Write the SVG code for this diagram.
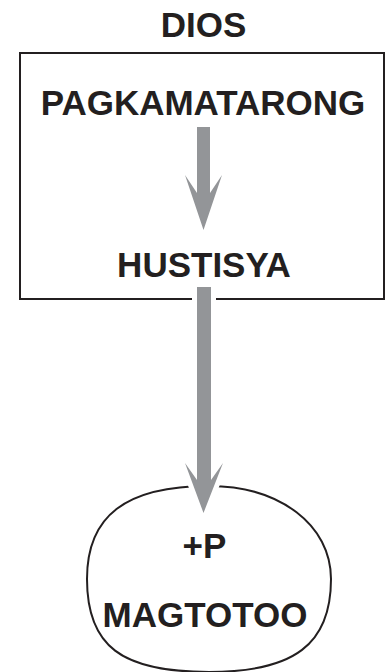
<svg xmlns="http://www.w3.org/2000/svg" width="386" height="672" viewBox="0 0 386 672">
  <style>
    .t { font-family: "Liberation Sans", Arial, sans-serif; font-weight: bold; font-size: 35px; fill: #231f20; text-anchor: middle; }
    .edge { fill: none; stroke: #231f20; stroke-width: 2; }
    .arrow { fill: #939598; stroke: #ffffff; stroke-width: 10; stroke-linejoin: miter; paint-order: stroke; }
  </style>
  <rect width="386" height="672" fill="#ffffff"/>
  <g id="dios-label">
    <text class="t" x="203.5" y="37">DIOS</text>
  </g>
  <g id="dios-box">
    <rect class="edge" x="20" y="53" width="364" height="246"/>
  </g>
  <g id="pagkamatarong">
    <text class="t" x="203" y="115">PAGKAMATARONG</text>
  </g>
  <g id="hustisya">
    <text class="t" x="204" y="277">HUSTISYA</text>
  </g>
  <g id="magtotoo">
    <path class="edge" d="M87,579 C87,515.8 126,486 209,486 C279.8,486 331,525.1 331,579 C331,644.1 294.4,672 209,672 C121.2,672 87,646 87,579 Z"/>
    <text class="t" x="204.5" y="558">+P</text>
    <text class="t" x="205" y="627">MAGTOTOO</text>
  </g>
  <g id="connectors">
    <path class="arrow" style="stroke:none" d="M197,127 L197,193 L185,175 L203.5,230 L222,175 L210,193 L210,127 Z"/>
    <path class="arrow" d="M197,287 L197,480 L185,463 L203.5,513 L223,463 L211,480 L211,287 Z"/>
  </g>
</svg>
